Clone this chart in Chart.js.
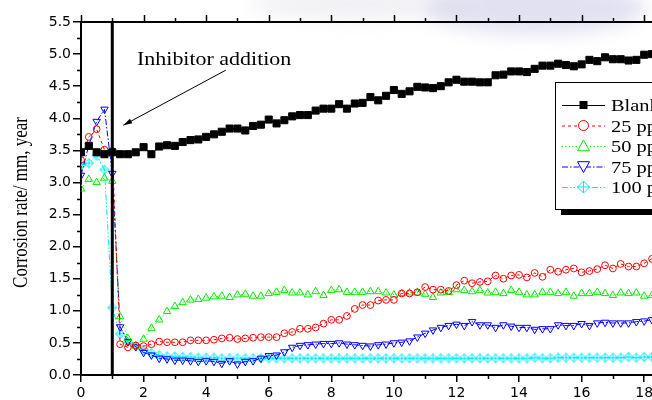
<!DOCTYPE html>
<html>
<head>
<meta charset="utf-8">
<script src="https://cdn.jsdelivr.net/npm/chart.js@4.4.0/dist/chart.umd.min.js"></script>
<style>
html, body { margin: 0; padding: 0; overflow: hidden; background: #fff; }
canvas { display: block; }
</style>
</head>
<body>
<canvas id="corrosion_rate" width="700" height="400"></canvas>
<script>
// time, h (one reading every 15 min)
var tempo = [0, 0.25, 0.5, 0.75, 1, 1.25, 1.5, 1.75,
    2, 2.25, 2.5, 2.75, 3, 3.25, 3.5, 3.75,
    4, 4.25, 4.5, 4.75, 5, 5.25, 5.5, 5.75,
    6, 6.25, 6.5, 6.75, 7, 7.25, 7.5, 7.75,
    8, 8.25, 8.5, 8.75, 9, 9.25, 9.5, 9.75,
    10, 10.25, 10.5, 10.75, 11, 11.25, 11.5, 11.75,
    12, 12.25, 12.5, 12.75, 13, 13.25, 13.5, 13.75,
    14, 14.25, 14.5, 14.75, 15, 15.25, 15.5, 15.75,
    16, 16.25, 16.5, 16.75, 17, 17.25, 17.5, 17.75,
    18, 18.25];

var blank = [3.47, 3.57, 3.47, 3.44, 3.47, 3.44, 3.44, 3.47,
    3.55, 3.44, 3.56, 3.58, 3.57, 3.63, 3.66, 3.67,
    3.71, 3.75, 3.79, 3.84, 3.84, 3.81, 3.88, 3.90,
    3.98, 3.92, 3.97, 4.03, 4.05, 4.05, 4.12, 4.15,
    4.15, 4.22, 4.15, 4.23, 4.24, 4.33, 4.28, 4.35,
    4.44, 4.38, 4.42, 4.49, 4.48, 4.47, 4.50, 4.56,
    4.60, 4.57, 4.57, 4.56, 4.56, 4.67, 4.68, 4.73,
    4.73, 4.72, 4.77, 4.82, 4.82, 4.85, 4.83, 4.81,
    4.84, 4.91, 4.89, 4.95, 4.92, 4.92, 4.90, 4.91,
    4.99, 5.00];

var ppm25 = [3.35, 3.71, 3.83, 3.51, 3.49, 0.48, 0.43, 0.46,
    0.45, 0.48, 0.52, 0.51, 0.51, 0.51, 0.54, 0.54,
    0.54, 0.55, 0.57, 0.58, 0.56, 0.57, 0.58, 0.59,
    0.59, 0.59, 0.65, 0.67, 0.72, 0.72, 0.74, 0.80,
    0.86, 0.86, 0.92, 1.03, 1.09, 1.09, 1.16, 1.17,
    1.17, 1.27, 1.27, 1.29, 1.37, 1.33, 1.33, 1.31,
    1.40, 1.47, 1.43, 1.45, 1.46, 1.55, 1.50, 1.55,
    1.56, 1.52, 1.59, 1.53, 1.64, 1.61, 1.64, 1.66,
    1.60, 1.62, 1.65, 1.71, 1.66, 1.73, 1.69, 1.69,
    1.74, 1.81];

var ppm50 = [2.90, 3.05, 3.00, 3.07, 3.02, 0.91, 0.57, 0.45,
    0.56, 0.73, 0.86, 0.99, 1.07, 1.13, 1.17, 1.18,
    1.20, 1.22, 1.23, 1.21, 1.25, 1.26, 1.23, 1.23,
    1.27, 1.29, 1.32, 1.28, 1.28, 1.25, 1.30, 1.24,
    1.32, 1.33, 1.29, 1.29, 1.29, 1.30, 1.30, 1.28,
    1.25, 1.27, 1.28, 1.28, 1.26, 1.21, 1.28, 1.29,
    1.33, 1.32, 1.30, 1.32, 1.28, 1.29, 1.27, 1.32,
    1.29, 1.25, 1.25, 1.29, 1.29, 1.27, 1.29, 1.23,
    1.27, 1.27, 1.29, 1.27, 1.24, 1.28, 1.27, 1.28,
    1.23, 1.24];

var ppm75 = [3.11, 3.58, 3.95, 4.14, 3.14, 0.75, 0.52, 0.44,
    0.35, 0.31, 0.26, 0.25, 0.23, 0.23, 0.22, 0.21,
    0.22, 0.21, 0.18, 0.22, 0.17, 0.21, 0.22, 0.26,
    0.30, 0.31, 0.36, 0.43, 0.46, 0.47, 0.48, 0.49,
    0.49, 0.50, 0.48, 0.47, 0.46, 0.45, 0.47, 0.48,
    0.50, 0.51, 0.53, 0.59, 0.65, 0.70, 0.74, 0.77,
    0.79, 0.77, 0.83, 0.78, 0.78, 0.74, 0.78, 0.76,
    0.74, 0.74, 0.71, 0.72, 0.72, 0.78, 0.77, 0.77,
    0.80, 0.77, 0.81, 0.82, 0.81, 0.81, 0.81, 0.83,
    0.84, 0.86];

var ppm100 = [3.27, 3.30, 3.42, 3.20, 1.05, 0.64, 0.51, 0.45,
    0.39, 0.34, 0.31, 0.29, 0.29, 0.28, 0.28, 0.27,
    0.27, 0.27, 0.26, 0.26, 0.26, 0.26, 0.26, 0.26,
    0.26, 0.26, 0.26, 0.26, 0.26, 0.26, 0.26, 0.26,
    0.26, 0.26, 0.26, 0.26, 0.26, 0.26, 0.26, 0.26,
    0.26, 0.26, 0.26, 0.26, 0.26, 0.26, 0.26, 0.26,
    0.26, 0.26, 0.26, 0.26, 0.26, 0.26, 0.26, 0.26,
    0.26, 0.26, 0.27, 0.26, 0.26, 0.27, 0.27, 0.27,
    0.27, 0.27, 0.27, 0.27, 0.27, 0.27, 0.28, 0.27,
    0.28, 0.28];

var series_names = ['Blank', '25 ppm', '50 ppm', '75 ppm', '100 ppm'];
var x_limits = [0, 18.25];
var y_limits = [0, 5.5];
var inhibitor_time = 1.0;
var note_text = 'Inhibitor addition';

function pts(vals) {
    return tempo.map(function (t, i) { return { x: t, y: vals[i] }; });
}

// diamond with a cross inside (Origin style symbol)
function crossDiamond(color, r) {
    var c = document.createElement('canvas');
    var s = Math.ceil(r * 2 + 3);
    c.width = s; c.height = s;
    var g = c.getContext('2d');
    var m = s / 2;
    g.strokeStyle = color;
    g.lineWidth = 1;
    g.beginPath();
    g.moveTo(m, m - r); g.lineTo(m + r, m); g.lineTo(m, m + r); g.lineTo(m - r, m); g.closePath();
    g.moveTo(m, m - r); g.lineTo(m, m + r);
    g.moveTo(m - r, m); g.lineTo(m + r, m);
    g.stroke();
    return c;
}

var styles = [
    { color: '#000000', dash: [], shape: 'square' },
    { color: '#ff0000', dash: [3, 3], shape: 'circle' },
    { color: '#00ee00', dash: [1, 2.5], shape: 'up' },
    { color: '#0000ff', dash: [6, 2, 1.5, 2], shape: 'down' },
    { color: '#00e8f8', dash: [6, 2, 1.5, 2, 1.5, 2], shape: 'xdiamond' }
];

function drawMarker(g, shape, x, y, s, color) {
    g.save();
    g.setLineDash([]);
    g.strokeStyle = color;
    g.fillStyle = '#fff';
    g.lineWidth = 1;
    g.beginPath();
    if (shape === 'square') {
        g.fillStyle = color;
        g.fillRect(x - s / 2, y - s / 2, s, s);
    } else if (shape === 'circle') {
        g.arc(x, y, s / 2, 0, 2 * Math.PI);
        g.fill(); g.stroke();
    } else if (shape === 'up') {
        g.moveTo(x, y - s / 2); g.lineTo(x + s / 2, y + s * 0.4); g.lineTo(x - s / 2, y + s * 0.4); g.closePath();
        g.fill(); g.stroke();
    } else if (shape === 'down') {
        g.moveTo(x, y + s / 2); g.lineTo(x + s / 2, y - s * 0.4); g.lineTo(x - s / 2, y - s * 0.4); g.closePath();
        g.fill(); g.stroke();
    } else {
        var r = s / 2;
        g.moveTo(x, y - r); g.lineTo(x + r, y); g.lineTo(x, y + r); g.lineTo(x - r, y); g.closePath();
        g.fill();
        g.moveTo(x, y - r); g.lineTo(x, y + r);
        g.moveTo(x - r, y); g.lineTo(x + r, y);
        g.stroke();
    }
    g.restore();
}

var extras = {
    id: 'extras',
    beforeDraw: function (chart) {
        var c = chart.ctx;
        c.save();
        c.filter = 'blur(9px)';
        c.fillStyle = 'rgba(200, 200, 232, 0.55)';
        c.beginPath();
        c.ellipse(535, 8, 110, 26, 0, 0, 2 * Math.PI);
        c.fill();
        c.fillStyle = 'rgba(215, 215, 225, 0.35)';
        c.beginPath();
        c.ellipse(360, 4, 110, 16, 0, 0, 2 * Math.PI);
        c.fill();
        c.restore();
    },
    afterDatasetsDraw: function (chart) {
        var c = chart.ctx, a = chart.chartArea;
        var xs = chart.scales.x, ys = chart.scales.y;
        c.save();
        c.strokeStyle = '#000';
        c.fillStyle = '#000';

        // top frame line + mirrored ticks, minor ticks everywhere
        c.lineWidth = 2;
        c.beginPath();
        c.moveTo(a.left - 1, a.top);
        c.lineTo(chart.width, a.top);
        c.stroke();
        c.lineWidth = 1.5;
        c.beginPath();
        xs.ticks.forEach(function (t) {
            var px = Math.round(xs.getPixelForValue(t.value)) + 0.5;
            c.moveTo(px, a.top); c.lineTo(px, a.top - 7);
        });
        for (var v = 1; v <= x_limits[1]; v += 2) {
            var p = Math.round(xs.getPixelForValue(v)) + 0.5;
            c.moveTo(p, a.top); c.lineTo(p, a.top - 4);
            c.moveTo(p, a.bottom); c.lineTo(p, a.bottom + 4);
        }
        for (var w = 0.25; w < y_limits[1]; w += 0.5) {
            var q = Math.round(ys.getPixelForValue(w)) + 0.5;
            c.moveTo(a.left, q); c.lineTo(a.left - 4, q);
        }
        c.stroke();

        // inhibitor addition marker
        var xi = xs.getPixelForValue(inhibitor_time);
        c.lineWidth = 3;
        c.beginPath();
        c.moveTo(xi, a.top);
        c.lineTo(xi, a.bottom);
        c.stroke();

        // note + arrow
        c.font = '18px "Liberation Serif", "Times New Roman", serif';
        c.textBaseline = 'alphabetic';
        var tx = xs.getPixelForValue(1.79), ty = ys.getPixelForValue(4.83);
        c.save();
        c.translate(tx, ty);
        c.scale(1.22, 1);
        c.fillText(note_text, 0, 0);
        c.restore();
        var x0 = xs.getPixelForValue(4.63), y0 = ys.getPixelForValue(4.75);
        var x1 = xs.getPixelForValue(1.35), y1 = ys.getPixelForValue(3.89);
        c.lineWidth = 1;
        c.beginPath();
        c.moveTo(x0, y0);
        c.lineTo(x1, y1);
        c.stroke();
        var ang = Math.atan2(y1 - y0, x1 - x0);
        c.beginPath();
        c.moveTo(x1, y1);
        c.lineTo(x1 - 9 * Math.cos(ang) + 2.5 * Math.sin(ang), y1 - 9 * Math.sin(ang) - 2.5 * Math.cos(ang));
        c.lineTo(x1 - 9 * Math.cos(ang) - 2.5 * Math.sin(ang), y1 - 9 * Math.sin(ang) + 2.5 * Math.cos(ang));
        c.closePath();
        c.fill();

        // legend box with drop shadow
        var lx = a.right - 97, ly = a.top + 60, lw = 160, lh = 127;
        c.fillRect(lx + 6, ly + lh, lw, 6);
        c.fillRect(lx + lw, ly + 6, 6, lh);
        c.fillStyle = '#fff';
        c.fillRect(lx, ly, lw, lh);
        c.lineWidth = 1;
        c.strokeStyle = '#000';
        c.strokeRect(lx + 0.5, ly + 0.5, lw, lh);
        c.font = '17px "Liberation Serif", "Times New Roman", serif';
        series_names.forEach(function (name, i) {
            var st = styles[i];
            var ry = ly + 23 + i * 20.5;
            c.strokeStyle = st.color;
            c.lineWidth = 1;
            c.setLineDash(st.dash);
            c.beginPath();
            c.moveTo(lx + 7, ry + 0.5);
            c.lineTo(lx + 50, ry + 0.5);
            c.stroke();
            c.setLineDash([]);
            var sz = st.shape === 'square' ? 8 : (st.shape === 'circle' ? 10 : 12);
            drawMarker(c, st.shape, lx + 28.5, ry, sz, st.color);
            c.fillStyle = '#000';
            c.save();
            c.translate(lx + 56, ry + 6);
            c.scale(1.2, 1);
            c.fillText(name, 0, 0);
            c.restore();
        });

        // y axis title
        c.fillStyle = '#000';
        c.font = '17px "Liberation Serif", "Times New Roman", serif';
        c.textAlign = 'center';
        c.textBaseline = 'middle';
        c.save();
        c.translate(22, (a.top + a.bottom) / 2 + 4);
        c.scale(1.18, 1);
        c.rotate(-Math.PI / 2);
        c.fillText('Corrosion rate/ mm, year', 0, 0);
        c.restore();
        c.restore();
    }
};

function serie(i, vals, extra) {
    var st = styles[i];
    var d = {
        label: series_names[i],
        data: pts(vals),
        borderColor: st.color,
        backgroundColor: 'rgba(0, 0, 0, 0)',
        borderWidth: 1,
        borderDash: st.dash,
        pointBorderColor: st.color,
        pointBackgroundColor: 'rgba(0, 0, 0, 0)',
        pointBorderWidth: 1,
        tension: 0
    };
    for (var k in extra) d[k] = extra[k];
    return d;
}

var ctx = document.getElementById('corrosion_rate').getContext('2d');
var grafico = new Chart(ctx, {
    type: 'line',
    data: {
        datasets: [
            serie(0, blank, { pointStyle: 'rect', pointRadius: 5, pointBackgroundColor: '#000' }),
            serie(1, ppm25, { pointStyle: 'circle', pointRadius: 3.4 }),
            serie(2, ppm50, { pointStyle: 'triangle', pointRadius: 4.3 }),
            serie(3, ppm75, { pointStyle: 'triangle', pointRadius: 4.3, pointRotation: 180 }),
            serie(4, ppm100, { pointStyle: crossDiamond(styles[4].color, 4.5), pointRadius: 4.5 })
        ]
    },
    options: {
        responsive: false,
        animation: false,
        layout: { padding: { top: 22, right: 48, left: 0, bottom: 0 } },
        scales: {
            x: {
                type: 'linear',
                min: x_limits[0],
                max: x_limits[1],
                afterFit: function (s) { s.height = 25; },
                ticks: {
                    stepSize: 2,
                    includeBounds: false,
                    autoSkip: false,
                    maxRotation: 0,
                    padding: 3,
                    color: '#000',
                    font: { family: '"DejaVu Sans", sans-serif', size: 14 }
                },
                grid: { drawOnChartArea: false, tickLength: 7, color: '#000', lineWidth: 1.5 },
                border: { color: '#000', width: 2 }
            },
            y: {
                min: y_limits[0],
                max: y_limits[1],
                afterFit: function (s) { s.width = 81; },
                ticks: {
                    stepSize: 0.5,
                    padding: 2,
                    color: '#000',
                    font: { family: '"DejaVu Sans", sans-serif', size: 14 },
                    callback: function (v) { return v.toFixed(1); }
                },
                grid: { drawOnChartArea: false, tickLength: 8, color: '#000', lineWidth: 1.5 },
                border: { color: '#000', width: 2 }
            }
        },
        plugins: {
            legend: { display: false },
            tooltip: { enabled: false }
        }
    },
    plugins: [extras]
});
</script>
</body>
</html>
